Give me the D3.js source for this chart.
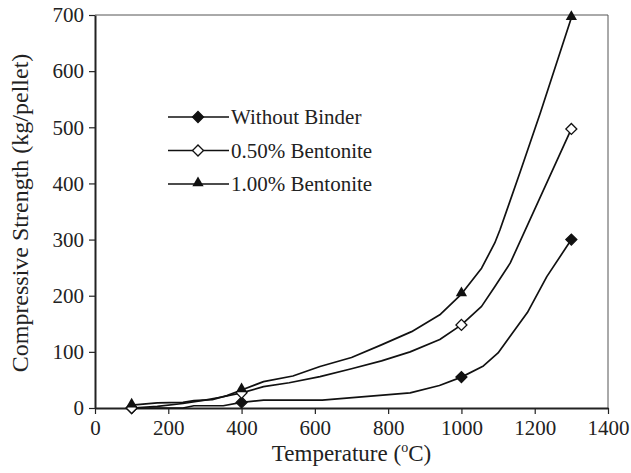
<!DOCTYPE html>
<html>
<head>
<meta charset="utf-8">
<script src="https://cdn.jsdelivr.net/npm/d3@7"></script>
<style>
body { margin: 0; background: #fff; }
text { font-family: "Liberation Serif", "Times New Roman", serif; fill: #222; }
</style>
</head>
<body>
<div id="chart"></div>
<script>
let seriesNames = ["Without Binder", "0.50% Bentonite", "1.00% Bentonite"]

// measured temperatures (marker positions)
let measuredTemps = [100, 400, 1000, 1300]
let withoutBinder = [0, 10, 55, 300]
let bentonite050 = [0, 27, 148, 497]
let bentonite100 = [5, 32, 203, 695]

// curve traces
let wbTraceT = [100, 240, 270, 350, 400, 460, 620, 860, 940, 1000, 1060, 1100, 1130, 1180, 1233, 1300]
let wbTraceV = [0, 0, 4, 4, 10, 14, 14, 27, 40, 55, 75, 98, 125, 170, 234, 300]
let b050TraceT = [100, 170, 240, 300, 350, 400, 460, 530, 614, 700, 782, 860, 941, 1000, 1055, 1091, 1133, 1300]
let b050TraceV = [0, 3, 8, 14, 20, 27, 38, 45, 56, 70, 84, 100, 122, 148, 181, 216, 258, 497]
let b100TraceT = [100, 170, 240, 270, 320, 360, 400, 460, 540, 614, 700, 780, 864, 941, 1000, 1055, 1091, 1105, 1160, 1215, 1300]
let b100TraceV = [5, 9, 10, 13, 15, 22, 32, 47, 57, 74, 90, 112, 136, 166, 203, 249, 294, 317, 420, 525, 695]

let xTicks = [0, 200, 400, 600, 800, 1000, 1200, 1400]
let yTicks = [0, 100, 200, 300, 400, 500, 600, 700]

let width = 631, height = 473
let margin = {top: 15, right: 23, bottom: 65, left: 95}
let w = width - margin.left - margin.right
let h = height - margin.top - margin.bottom

let svg = d3.select('#chart').append('svg')
    .attr('width', width)
    .attr('height', height)

let g = svg.append('g')
    .attr('transform', "translate(" + margin.left + "," + margin.top + ")")

let x = d3.scaleLinear().domain([0, 1400]).range([0, w])
let y = d3.scaleLinear().domain([0, 700]).range([h, 0])

// frame (top / right)
g.append('path')
    .attr('d', "M0,0H" + w + "V" + h)
    .attr('fill', 'none')
    .attr('stroke', '#555')
    .attr('stroke-width', 1)

let xAxis = g.append('g')
    .attr('transform', "translate(0," + h + ")")
    .call(d3.axisBottom(x).tickValues(xTicks).tickFormat(d3.format('d')).tickSize(6).tickSizeOuter(0))
let yAxis = g.append('g')
    .call(d3.axisLeft(y).tickValues(yTicks).tickFormat(d3.format('d')).tickSize(6).tickSizeOuter(0))

;[xAxis, yAxis].forEach(a => {
    a.select('.domain').attr('stroke', '#222').attr('stroke-width', 2)
    a.selectAll('.tick line').attr('stroke', '#222').attr('stroke-width', 1.2)
    a.selectAll('.tick text')
        .style('font-family', '"Liberation Serif", serif')
        .style('font-size', '21px')
        .attr('fill', '#222')
})
xAxis.selectAll('.tick text').attr('dy', 0).attr('y', 27)
yAxis.selectAll('.tick text').attr('x', -11)

// axis titles
let xTitle = svg.append('text')
    .attr('x', margin.left + w / 2)
    .attr('y', 461)
    .attr('text-anchor', 'middle')
    .style('font-size', '23px')
xTitle.append('tspan').text('Temperature (')
xTitle.append('tspan').text('o').style('font-size', '14px').attr('dy', -9)
xTitle.append('tspan').text('C)').attr('dy', 9)

svg.append('text')
    .attr('transform', 'translate(28,' + 213 + ') rotate(-90)')
    .attr('text-anchor', 'middle')
    .style('font-size', '24px')
    .text('Compressive Strength (kg/pellet)')

let traces = [
    {t: wbTraceT, v: wbTraceV, mv: withoutBinder},
    {t: b050TraceT, v: b050TraceV, mv: bentonite050},
    {t: b100TraceT, v: b100TraceV, mv: bentonite100}
]

let line = d3.line()
    .x(d => x(d[0]))
    .y(d => y(d[1]))

traces.forEach(s => {
    g.append('path')
        .datum(s.t.map((t, i) => [t, s.v[i]]))
        .attr('d', line)
        .attr('fill', 'none')
        .attr('stroke', '#111')
        .attr('stroke-width', 1.7)
        .attr('stroke-linejoin', 'round')
})

let diamond = d3.symbol().type(d3.symbolSquare).size(60)
let triangle = d3.symbol().type(d3.symbolTriangle).size(55)

function drawMarker(sel, k) {
    if (k == 2) {
        sel.append('path').attr('d', triangle()).attr('fill', '#111').attr('transform', 'translate(0,-1)')
    } else {
        sel.append('path').attr('d', diamond())
            .attr('transform', 'rotate(45)')
            .attr('fill', k == 0 ? '#111' : '#fff')
            .attr('stroke', '#111')
            .attr('stroke-width', 1.3)
    }
}

traces.forEach((s, k) => {
    measuredTemps.forEach((t, i) => {
        let m = g.append('g').attr('transform', "translate(" + x(t) + "," + y(s.mv[i]) + ")")
        drawMarker(m, k)
    })
})

// legend
let legend = svg.append('g')
seriesNames.forEach((name, k) => {
    let ly = 117 + k * 33.5
    let lg = legend.append('g').attr('transform', 'translate(0,' + ly + ')')
    lg.append('line').attr('x1', 168).attr('x2', 229).attr('y1', 0).attr('y2', 0)
        .attr('stroke', '#111').attr('stroke-width', 1.7)
    let m = lg.append('g').attr('transform', 'translate(198,0)')
    drawMarker(m, k)
    lg.append('text').attr('x', 231).attr('y', 0).attr('dy', '0.35em')
        .style('font-size', '21px').text(name)
})
</script>
</body>
</html>
